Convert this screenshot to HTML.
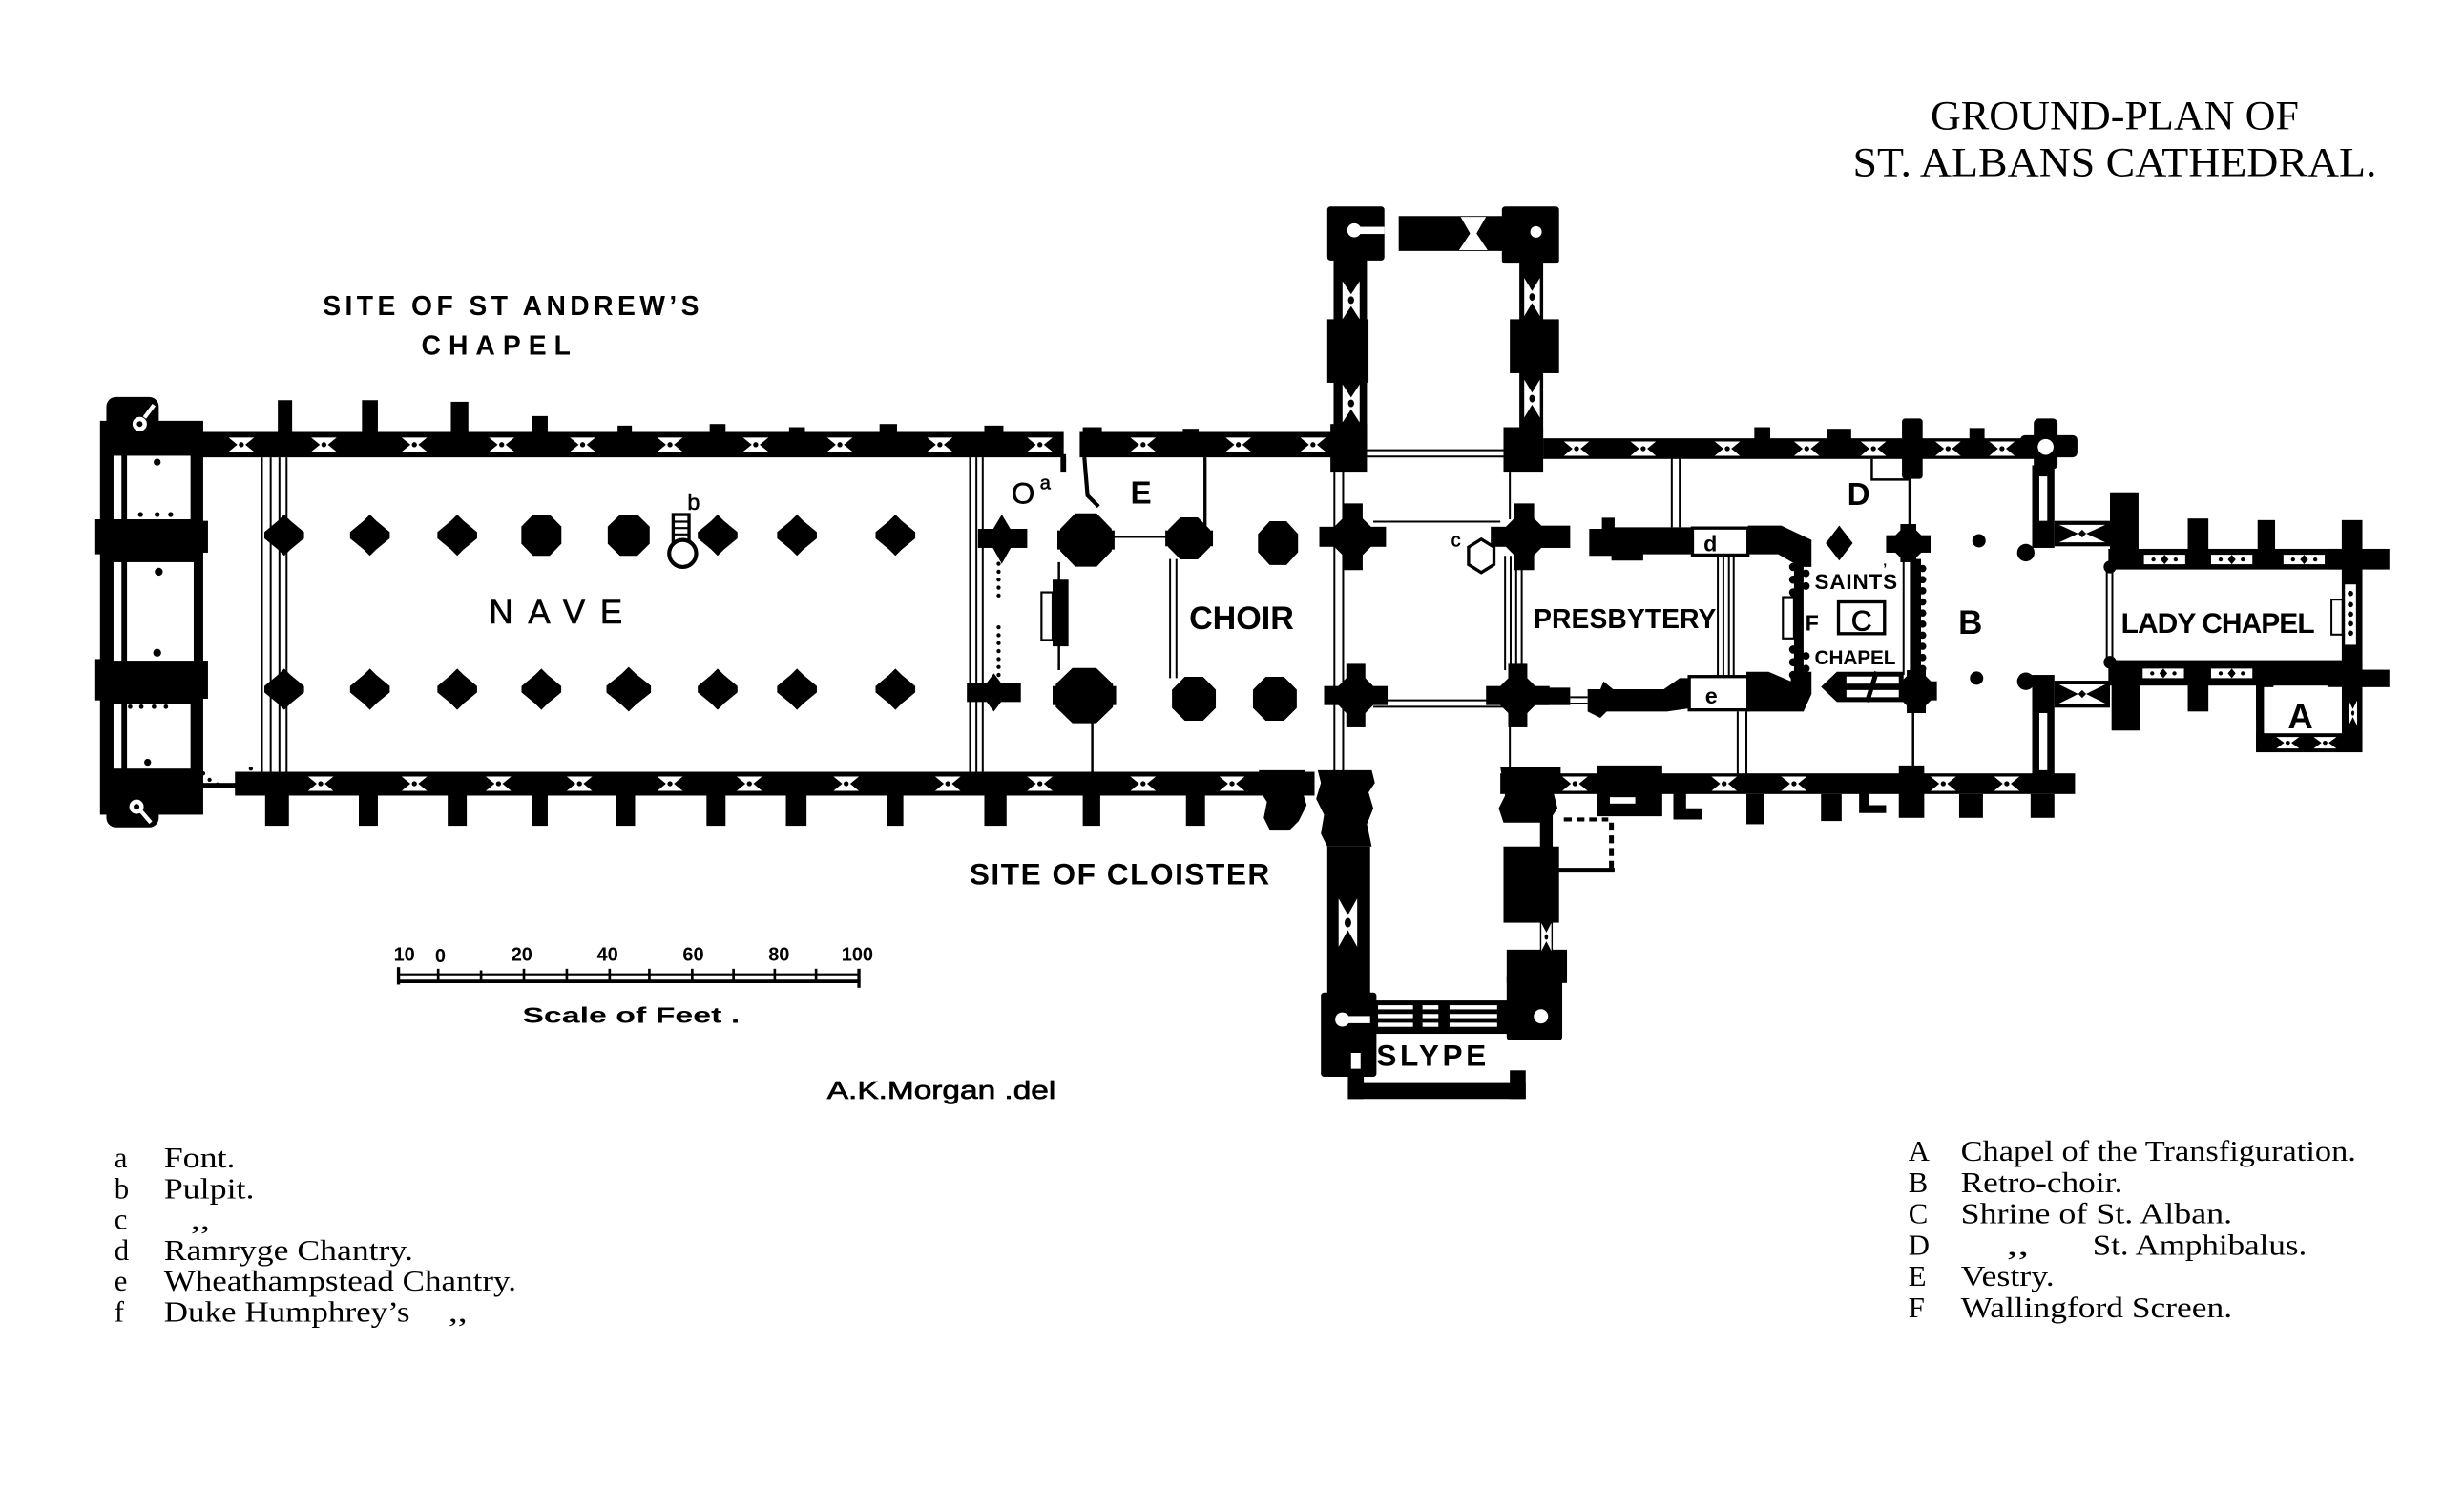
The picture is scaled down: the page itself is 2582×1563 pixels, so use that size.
<!DOCTYPE html>
<html><head><meta charset="utf-8"><title>Ground-plan of St. Albans Cathedral</title>
<style>
html,body{margin:0;padding:0;background:#fff;overflow:hidden}
svg{display:block}
.h{font-family:"Liberation Sans",sans-serif;font-weight:bold;fill:#000}
.n{font-family:"Liberation Sans",sans-serif;fill:#000}
.s{font-family:"Liberation Serif",serif;fill:#000}
</style></head><body>
<svg xmlns="http://www.w3.org/2000/svg" width="2582" height="1563" viewBox="0 0 1552 939.5" preserveAspectRatio="none">
<defs>
<g id="wh"><polygon points="-8,-4.5 8,-4.5 2.5,0 8,4.5 -8,4.5 -2.5,0" fill="#fff"/><circle r="1.6" fill="#000"/></g>
<g id="wv"><polygon points="-4.5,-8 0,-2.5 4.5,-8 4.5,8 0,2.5 -4.5,8" fill="#fff"/><circle r="1.6" fill="#000"/></g>
<g id="wl"><rect x="-13" y="-3" width="26" height="6" fill="#fff"/><polygon points="0,-3 2.5,0 0,3 -2.5,0" fill="#000"/><circle cx="-7" r="1.3" fill="#000"/><circle cx="7" r="1.3" fill="#000"/></g>
<polygon id="lz" points="0,-13 4,-9 12.5,-2 12.5,2 4,9 0,13 -4,9 -12.5,2 -12.5,-2 -4,-9"/>
<polygon id="oc" points="12,5 5,12 -5,12 -12,5 -12,-5 -5,-12 5,-12 12,-5"/>
<g id="cx"><polygon points="12,5 5,12 -5,12 -12,5 -12,-5 -5,-12 5,-12 12,-5"/><rect x="-20" y="-6" width="40" height="12"/><rect x="-6" y="-20" width="12" height="40"/></g>
</defs>
<rect width="1552" height="939.5" fill="#fff"/>

<g transform="translate(0,-3)">
<!-- ================= BLACK MASSES ================= -->
<g fill="#000">
<!-- west front -->
<rect x="63" y="268" width="65" height="248"/>
<rect x="67" y="253" width="33" height="27" rx="6"/>
<rect x="67" y="497" width="33" height="27" rx="6"/>
<rect x="60" y="330" width="8" height="22"/>
<rect x="60" y="418" width="8" height="26"/>
<rect x="126" y="331" width="5" height="20"/>
<rect x="126" y="419" width="5" height="24"/>
<rect x="120" y="496" width="30" height="3"/>

<!-- nave north wall -->
<rect x="100" y="275" width="570" height="16"/>
<rect x="680" y="275" width="162" height="16"/>
<rect x="668" y="289" width="3.5" height="11"/>
<rect x="175" y="255" width="9" height="21"/>
<rect x="228" y="255" width="10" height="21"/>
<rect x="284" y="256" width="11" height="20"/>
<rect x="335" y="265" width="10" height="11"/>
<rect x="389" y="271" width="9" height="5"/>
<rect x="447" y="270" width="10" height="6"/>
<rect x="497" y="272" width="10" height="4"/>
<rect x="554" y="270" width="11" height="6"/>
<rect x="620" y="271" width="12" height="5"/>
<rect x="682" y="272" width="12" height="4"/>
<rect x="745" y="273" width="10" height="3"/>

<!-- nave south wall -->
<rect x="148" y="489" width="680" height="15"/>
<rect x="167" y="504" width="15" height="19"/>
<rect x="226" y="504" width="12" height="19"/>
<rect x="282" y="504" width="12" height="19"/>
<rect x="335" y="504" width="10" height="19"/>
<rect x="388" y="504" width="12" height="19"/>
<rect x="445" y="504" width="12" height="19"/>
<rect x="495" y="504" width="13" height="19"/>
<rect x="559" y="504" width="10" height="19"/>
<rect x="620" y="504" width="14" height="19"/>
<rect x="682" y="504" width="11" height="19"/>
<rect x="747" y="504" width="12" height="19"/>
<path d="M793,488 L822,488 L824,495 L820,500 L823,510 L818,520 L812,526 L800,526 L796,518 L798,508 L793,500 Z"/>

<!-- nave piers -->
<use href="#lz" x="179" y="340"/>
<use href="#lz" x="233" y="340"/>
<use href="#lz" x="288" y="340"/>
<use href="#oc" transform="translate(341,340) scale(1.05,1.08)"/>
<use href="#oc" transform="translate(396,340) scale(1.1,1.08)"/>
<use href="#lz" x="452" y="340"/>
<use href="#lz" x="502" y="340"/>
<use href="#lz" x="564" y="340"/>
<use href="#lz" x="179" y="437"/>
<use href="#lz" x="233" y="437"/>
<use href="#lz" x="288" y="437"/>
<use href="#lz" x="341" y="437"/>
<use href="#lz" transform="translate(396,437) scale(1.12,1.08)"/>
<use href="#lz" x="452" y="437"/>
<use href="#lz" x="502" y="437"/>
<use href="#lz" x="564" y="437"/>

<!-- choir piers -->
<rect x="616" y="336" width="31" height="12"/>
<polygon points="631,327 640,342 631,358 622,342"/>
<use href="#oc" transform="translate(684,343) scale(1.35,1.4)"/>
<rect x="666" y="337" width="36" height="12"/>
<use href="#oc" transform="translate(749,342) scale(1.1,1.1)"/>
<rect x="734" y="337" width="30" height="10"/>
<use href="#oc" transform="translate(805,345) scale(1.05,1.15)"/>
<use href="#cx" transform="translate(852,341) scale(1.05)"/>
<use href="#cx" transform="translate(960,341) scale(1.05)"/>
<rect x="960" y="334" width="29" height="14"/>
<rect x="609" y="433" width="34" height="12"/>
<polygon points="626,427 635,439 626,451 617,439"/>
<use href="#oc" transform="translate(683,441) scale(1.5,1.45)"/>
<rect x="663" y="435" width="40" height="12"/>
<use href="#oc" transform="translate(752,443) scale(1.15,1.15)"/>
<use href="#oc" transform="translate(803,443) scale(1.15,1.15)"/>
<use href="#cx" transform="translate(854,441)"/>
<use href="#cx" transform="translate(956,441)"/>
<rect x="956" y="436" width="33" height="11"/>
<rect x="663" y="368" width="10" height="42"/>

<!-- north transept -->
<rect x="836" y="133" width="36" height="34" rx="2"/>
<rect x="881" y="139" width="71" height="22"/>
<rect x="946" y="133" width="36" height="36" rx="2"/>
<rect x="840" y="160" width="21" height="130"/>
<rect x="836" y="204" width="26" height="40"/>
<rect x="838" y="270" width="23" height="30"/>
<rect x="957" y="165" width="15" height="125"/>
<rect x="951" y="204" width="31" height="34"/>
<rect x="947" y="272" width="25" height="28"/>

<!-- south transept -->
<path d="M830,488 L864,488 L866,496 L862,502 L865,512 L861,522 L864,536 L836,536 L832,528 L834,516 L829,506 L832,496 Z"/>
<rect x="836" y="536" width="27" height="95"/>
<rect x="832" y="628" width="35" height="53" rx="2"/>
<rect x="863" y="633" width="87" height="21"/>
<rect x="949" y="616" width="35" height="42" rx="2"/>
<rect x="849" y="654" width="10" height="41"/>
<rect x="849" y="685" width="112" height="10"/>
<rect x="951" y="677" width="10" height="18"/>
<rect x="970" y="488" width="8" height="134"/>
<path d="M945,486 L983,486 L983,496 L978,500 L981,512 L975,521 L947,521 L944,512 L948,504 Z"/>
<rect x="947" y="536" width="35" height="48"/>
<rect x="949" y="601" width="38" height="21"/>

<!-- presbytery -->
<path d="M1001,336 L1009,336 L1009,329 L1017,329 L1017,335 L1066,335 L1066,352 L1035,352 L1035,356 L1015,356 L1015,353 L1001,353 Z"/>
<path d="M1101,334 L1122,334 L1141,343 L1141,360 L1134,360 L1120,352 L1101,352 Z"/>
<rect x="1130" y="355" width="6" height="82"/>
<circle cx="1129.5" cy="360" r="2.6"/><circle cx="1129.5" cy="368" r="2.6"/><circle cx="1129.5" cy="376" r="2.6"/>
<circle cx="1137.5" cy="364" r="2.4"/><circle cx="1137.5" cy="372" r="2.4"/>
<circle cx="1129.5" cy="412" r="2.6"/><circle cx="1129.5" cy="420" r="2.6"/><circle cx="1129.5" cy="428" r="2.6"/>
<circle cx="1137.5" cy="416" r="2.4"/><circle cx="1137.5" cy="424" r="2.4"/>
<path d="M1128,426 L1141,426 L1141,440 L1136,451 L1100,451 L1100,426 L1114,426 L1128,432 Z"/>
<path d="M1000,437 L1008,437 L1010,432 L1016,437 L1048,437 L1058,430 L1064,430 L1064,449 L1050,451 L1012,451 L1008,455 L1000,451 Z"/>

<!-- presbytery / retro north wall -->
<rect x="972" y="279" width="318" height="13"/>
<rect x="1105" y="272" width="10" height="8"/>
<rect x="1151" y="273" width="15" height="7"/>
<rect x="1198" y="266.5" width="13" height="38" rx="2"/>
<rect x="1240.5" y="272.5" width="9.5" height="7"/>

<!-- saints chapel piers -->
<polygon points="1158.5,334 1167,345 1158.5,356 1150,345"/>
<use href="#oc" transform="translate(1202,345.5) scale(0.8)"/>
<rect x="1188" y="340" width="28" height="11"/>
<rect x="1197" y="333" width="10" height="24"/>
<rect x="1203" y="355" width="7" height="74"/>
<circle cx="1211" cy="361" r="2.3"/><circle cx="1211" cy="368" r="2.3"/><circle cx="1211" cy="375" r="2.3"/><circle cx="1211" cy="382" r="2.3"/>
<circle cx="1211" cy="389" r="2.3"/><circle cx="1211" cy="396" r="2.3"/><circle cx="1211" cy="403" r="2.3"/><circle cx="1211" cy="410" r="2.3"/>
<circle cx="1211" cy="417" r="2.3"/><circle cx="1211" cy="424" r="2.3"/>
<polygon points="1147,435.5 1157,426 1199,426 1199,445 1157,445"/>
<use href="#oc" transform="translate(1207,438) scale(0.9)"/>
<rect x="1195" y="432" width="25" height="12"/>
<rect x="1201" y="425" width="12" height="27"/>

<!-- NE turret and retro-choir east -->
<rect x="1281" y="266.5" width="15" height="32" rx="3"/>
<rect x="1272.5" y="277" width="36" height="14" rx="3"/>
<rect x="1280" y="296" width="14" height="52"/>
<circle cx="1276" cy="351" r="5.5"/>
<rect x="1294" y="331" width="35" height="16"/>
<rect x="1280" y="428" width="14" height="73"/>
<circle cx="1276" cy="432" r="5.5"/>
<rect x="1294" y="431.6" width="35" height="17"/>

<!-- Lady chapel -->
<rect x="1328" y="348.6" width="160" height="13"/>
<rect x="1466" y="348.6" width="39" height="13"/>
<rect x="1329" y="313" width="18" height="36"/>
<rect x="1378" y="329.5" width="13" height="20"/>
<rect x="1422" y="330.5" width="11" height="19"/>
<rect x="1475" y="330.5" width="13" height="20"/>
<rect x="1328" y="418.7" width="160" height="16"/>
<rect x="1466" y="424.7" width="39" height="11"/>
<rect x="1330" y="434" width="18" height="29"/>
<rect x="1378" y="434" width="13" height="17"/>
<rect x="1421" y="434" width="11" height="22"/>
<rect x="1421" y="434" width="6" height="42"/>
<rect x="1475" y="361" width="13" height="114"/>
<rect x="1421" y="464.7" width="67" height="12"/>
<circle cx="1329" cy="360" r="4"/>
<circle cx="1329" cy="420" r="4"/>

<!-- south aisle wall east -->
<rect x="945" y="490" width="362" height="13"/>
<rect x="1006" y="485" width="41" height="32"/>
<path d="M1054,491 L1072,491 L1072,497 L1062,497 L1062,512 L1072,512 L1072,519 L1054,519 Z"/>
<rect x="1100" y="503" width="11" height="19"/>
<rect x="1147" y="503" width="13" height="17"/>
<path d="M1171,491 L1188,491 L1188,496 L1177,496 L1177,510 L1188,510 L1188,515 L1171,515 Z"/>
<rect x="1196" y="485" width="16" height="33"/>
<rect x="1234" y="503" width="15" height="15"/>
<rect x="1279" y="503" width="15" height="15"/>
</g>

<!-- ================= WHITE CUT-OUTS ================= -->
<g fill="#fff">
<rect x="71.5" y="290" width="5" height="40"/>
<rect x="80" y="290" width="40" height="40"/>
<rect x="71.5" y="357" width="5" height="62"/>
<rect x="80" y="357" width="42" height="62"/>
<rect x="71.5" y="446" width="5" height="41"/>
<rect x="80" y="446" width="40" height="41"/>
<circle cx="88" cy="270" r="4.5"/>
<circle cx="86" cy="511" r="4.5"/>
<rect x="671.5" y="275" width="8.5" height="16"/>
<circle cx="853" cy="148" r="4.4"/>
<rect x="853" y="145.8" width="19" height="4.5"/>
<circle cx="967.5" cy="149" r="3.6"/>
<polygon points="920,139.5 936,139.5 930,150 937,160.5 919,160.5 926,150"/>
<circle cx="845.5" cy="645" r="4.5"/>
<rect x="845" y="642.8" width="18" height="4.5"/>
<circle cx="970.6" cy="643" r="4.5"/>
<rect x="851" y="666" width="6" height="10"/>
<rect x="868" y="636" width="22" height="2.6"/><rect x="868" y="641.5" width="22" height="2.6"/><rect x="868" y="647" width="22" height="2.6"/>
<rect x="896" y="636" width="10" height="2.6"/><rect x="896" y="641.5" width="10" height="2.6"/><rect x="896" y="647" width="10" height="2.6"/>
<rect x="913" y="636" width="30" height="2.6"/><rect x="913" y="641.5" width="30" height="2.6"/><rect x="913" y="647" width="30" height="2.6"/>
<rect x="1014" y="505" width="16" height="4"/>
<circle cx="1288.5" cy="284.4" r="5"/>
<rect x="1284.5" y="303" width="5" height="28"/>
<rect x="1284.5" y="452" width="5" height="36"/>
<polygon points="1297,333.5 1326,333.5 1314,339 1326,344.5 1297,344.5 1309,339"/>
<polygon points="1297,434 1326,434 1314,440 1326,446 1297,446 1309,440"/>
<rect x="1477" y="371" width="7" height="38"/>
<rect x="1426" y="435.7" width="49" height="29"/>
<rect x="1163" y="429" width="33" height="4.5"/>
<rect x="1163" y="437.5" width="33" height="4.5"/>
</g>

<!-- windows -->
<g>
<use href="#wh" x="152" y="283"/><use href="#wh" x="204" y="283"/><use href="#wh" x="261" y="283"/>
<use href="#wh" x="316" y="283"/><use href="#wh" x="367" y="283"/><use href="#wh" x="422" y="283"/>
<use href="#wh" x="476" y="283"/><use href="#wh" x="529" y="283"/><use href="#wh" x="592" y="283"/>
<use href="#wh" x="655" y="283"/><use href="#wh" x="720" y="283"/><use href="#wh" x="780" y="283"/>
<use href="#wh" x="827" y="283"/>
<use href="#wh" x="202" y="496.5"/><use href="#wh" x="261" y="496.5"/><use href="#wh" x="314" y="496.5"/>
<use href="#wh" x="365" y="496.5"/><use href="#wh" x="422" y="496.5"/><use href="#wh" x="472" y="496.5"/>
<use href="#wh" x="533" y="496.5"/><use href="#wh" x="597" y="496.5"/><use href="#wh" x="655" y="496.5"/>
<use href="#wh" x="720" y="496.5"/><use href="#wh" x="776" y="496.5"/>
<use href="#wh" x="993" y="285.5"/><use href="#wh" x="1035" y="285.5"/><use href="#wh" x="1088" y="285.5"/>
<use href="#wh" x="1138" y="285.5"/><use href="#wh" x="1180" y="285.5"/><use href="#wh" x="1227" y="285.5"/>
<use href="#wh" x="1261" y="285.5"/>
<use href="#wh" x="992" y="496.5"/><use href="#wh" x="1086" y="496.5"/><use href="#wh" x="1130" y="496.5"/>
<use href="#wh" x="1224" y="496.5"/><use href="#wh" x="1264" y="496.5"/>
<use href="#wv" transform="translate(851,192) scale(1.2,1.5)"/>
<use href="#wv" transform="translate(851,257) scale(1.2,1.5)"/>
<use href="#wv" transform="translate(965,190) scale(1.1,1.5)"/>
<use href="#wv" transform="translate(965,254) scale(1.1,1.5)"/>
<use href="#wv" transform="translate(849,584) scale(1.3,1.9)"/>
<use href="#wv" transform="translate(974,593) scale(0.7,1.1)"/>
<use href="#wl" x="1363.4" y="355.3"/><use href="#wl" x="1405.7" y="355.3"/><use href="#wl" x="1451.3" y="355.3"/>
<use href="#wl" x="1362.6" y="427"/><use href="#wl" x="1405.7" y="427"/>
<use href="#wh" transform="translate(1441,470.7) scale(0.9,0.8)"/>
<use href="#wh" transform="translate(1464.5,470.7) scale(0.9,0.8)"/>
<use href="#wv" transform="translate(1482,452) scale(0.6,1)"/>
</g>

<!-- black details on top of white -->
<g fill="#000">
<circle cx="99" cy="294" r="2.2"/>
<circle cx="88.5" cy="327" r="1.6"/><circle cx="99" cy="327" r="1.6"/><circle cx="107.5" cy="327" r="1.6"/>
<circle cx="100" cy="363" r="2.5"/><circle cx="99" cy="414" r="2.5"/>
<circle cx="82" cy="448" r="1.4"/><circle cx="89" cy="448" r="1.4"/><circle cx="97" cy="448" r="1.4"/><circle cx="104.5" cy="448" r="1.4"/>
<circle cx="93" cy="483" r="2.2"/>
<circle cx="88" cy="270" r="1.8"/><circle cx="86" cy="511" r="1.8"/>
<circle cx="124" cy="485" r="1.3"/><circle cx="128" cy="490" r="1.3"/><circle cx="132" cy="494" r="1.3"/><circle cx="137" cy="497" r="1.3"/>
<circle cx="143" cy="498" r="1.3"/><circle cx="149" cy="497" r="1.3"/><circle cx="154" cy="492" r="1.3"/><circle cx="158" cy="487" r="1.3"/>
<circle cx="629" cy="358" r="1.3"/><circle cx="629" cy="363" r="1.3"/><circle cx="629" cy="368" r="1.3"/><circle cx="629" cy="373" r="1.3"/><circle cx="629" cy="378" r="1.3"/>
<circle cx="629" cy="398" r="1.3"/><circle cx="629" cy="403" r="1.3"/><circle cx="629" cy="408" r="1.3"/><circle cx="629" cy="413" r="1.3"/><circle cx="629" cy="418" r="1.3"/><circle cx="629" cy="423" r="1.3"/><circle cx="629" cy="428" r="1.3"/>
<circle cx="1480.5" cy="376.7" r="1.7"/><circle cx="1480.5" cy="383.7" r="1.7"/><circle cx="1480.5" cy="389.7" r="1.7"/><circle cx="1480.5" cy="395.7" r="1.7"/><circle cx="1480.5" cy="401.7" r="1.7"/>
<polygon points="1311.5,336.5 1314,339 1311.5,341.5 1309,339"/>
<polygon points="1311.5,437.5 1314,440 1311.5,442.5 1309,440"/>
<circle cx="1246.5" cy="343.5" r="4.2"/>
<circle cx="1245" cy="430" r="4.2"/>
</g>

<!-- ================= LINES ================= -->
<g stroke="#000" fill="none" stroke-width="1.2">
<line x1="165" y1="291" x2="165" y2="489"/><line x1="170.5" y1="291" x2="170.5" y2="489"/>
<line x1="176" y1="291" x2="176" y2="489"/><line x1="180.5" y1="291" x2="180.5" y2="489"/>
<line x1="611" y1="291" x2="611" y2="489"/><line x1="615" y1="291" x2="615" y2="489"/><line x1="619" y1="291" x2="619" y2="489"/>
<line x1="759" y1="291" x2="759" y2="336" stroke-width="2"/>
<line x1="700" y1="341" x2="740" y2="341" stroke-width="1.5"/>
<line x1="737" y1="355" x2="737" y2="430"/><line x1="741" y1="355" x2="741" y2="430"/>
<line x1="667" y1="357" x2="667" y2="425" stroke-width="1.5"/>
<line x1="688" y1="458" x2="688" y2="490" stroke-width="1.5"/>
<line x1="840.5" y1="291" x2="840.5" y2="490"/><line x1="846" y1="291" x2="846" y2="490"/>
<line x1="861" y1="286.5" x2="948" y2="286.5"/><line x1="861" y1="290.5" x2="948" y2="290.5"/>
<line x1="865" y1="331.5" x2="945" y2="331.5"/>
<line x1="865" y1="444" x2="948" y2="444"/><line x1="865" y1="448" x2="948" y2="448"/>
<line x1="948" y1="353" x2="948" y2="425"/><line x1="951.5" y1="353" x2="951.5" y2="425"/>
<line x1="955" y1="353" x2="955" y2="425"/><line x1="958.5" y1="353" x2="958.5" y2="425"/>
<line x1="951" y1="300" x2="951" y2="330"/><line x1="951" y1="457" x2="951" y2="489"/>
<line x1="1053" y1="291" x2="1053" y2="335"/><line x1="1058" y1="291" x2="1058" y2="335"/>
<line x1="1082" y1="352" x2="1082" y2="429"/><line x1="1085.5" y1="352" x2="1085.5" y2="429"/>
<line x1="1089" y1="352" x2="1089" y2="429"/><line x1="1092" y1="352" x2="1092" y2="429"/>
<line x1="1094.5" y1="451" x2="1094.5" y2="491"/><line x1="1100" y1="451" x2="1100" y2="491"/>
<line x1="989" y1="442" x2="1000" y2="442"/><line x1="989" y1="446" x2="1000" y2="446"/>
<line x1="1203" y1="291" x2="1203" y2="335" stroke-width="2"/>
<polyline points="1179,292 1179,305 1203,305" stroke-width="1.5"/>
<line x1="1199" y1="355" x2="1199" y2="428"/>
<line x1="1205" y1="451" x2="1205" y2="490" stroke-width="1.5"/>
<line x1="1327" y1="362" x2="1327" y2="418"/><line x1="1330.5" y1="362" x2="1330.5" y2="418"/>
<line x1="1064" y1="432" x2="1101" y2="432" stroke-width="1"/>
<polyline points="683,291 685,315 692,322" stroke-width="2.5"/>
<line x1="980" y1="551" x2="1017" y2="551" stroke-width="3"/>
<line x1="1015" y1="521" x2="1015" y2="551" stroke-width="3" stroke-dasharray="5,3"/>
<line x1="985" y1="519" x2="1013" y2="519" stroke-width="2.5" stroke-dasharray="5,3"/>
<line x1="91" y1="266" x2="97" y2="258" stroke="#fff" stroke-width="2.5"/>
<line x1="89" y1="514" x2="95" y2="521" stroke="#fff" stroke-width="2.5"/>
<line x1="1176" y1="445" x2="1182" y2="426" stroke-width="3"/>
</g>

<!-- outlined small features -->
<g fill="#fff" stroke="#000">
<rect x="656" y="376" width="7" height="30" stroke-width="1.3"/>
<rect x="424" y="327" width="10" height="17" stroke-width="2"/>
<circle cx="430" cy="351.5" r="8.5" stroke-width="2.5"/>
<polygon points="933,342.5 941,347.5 941,358.5 933,363.5 925,358.5 925,347.5" stroke-width="2"/>
<rect x="1066" y="335.5" width="35" height="17" stroke-width="2"/>
<rect x="1064" y="429" width="37" height="21" stroke-width="2"/>
<rect x="1123" y="379" width="7" height="26" stroke-width="1.3"/>
<rect x="1158" y="382" width="29" height="20" stroke-width="2"/>
<rect x="1468.5" y="380.6" width="7" height="22" stroke-width="1.2"/>
</g>
<g stroke="#000" stroke-width="1.3">
<line x1="424" y1="331.5" x2="434" y2="331.5"/><line x1="424" y1="335.5" x2="434" y2="335.5"/><line x1="424" y1="339.5" x2="434" y2="339.5"/>
</g>
</g>

<!-- ================= SCALE BAR ================= -->
<g stroke="#000" fill="none">
<line x1="251" y1="613.5" x2="541" y2="613.5" stroke-width="1.3"/>
<line x1="251" y1="618" x2="541" y2="618" stroke-width="2.2"/>
<line x1="251" y1="609" x2="251" y2="620" stroke-width="2"/>
<line x1="541" y1="610" x2="541" y2="622" stroke-width="2"/>
<line x1="276" y1="610" x2="276" y2="619" stroke-width="1.6"/>
<line x1="303" y1="611" x2="303" y2="619" stroke-width="1.6"/>
<line x1="330" y1="610" x2="330" y2="619" stroke-width="1.6"/>
<line x1="357" y1="610" x2="357" y2="619" stroke-width="1.6"/>
<line x1="384" y1="610" x2="384" y2="619" stroke-width="1.6"/>
<line x1="409" y1="610" x2="409" y2="619" stroke-width="1.6"/>
<line x1="436" y1="610" x2="436" y2="619" stroke-width="1.6"/>
<line x1="462" y1="610" x2="462" y2="619" stroke-width="1.6"/>
<line x1="488" y1="610" x2="488" y2="619" stroke-width="1.6"/>
<line x1="514" y1="610" x2="514" y2="619" stroke-width="1.6"/>
</g>
<g class="h" font-size="12">
<text x="248" y="605">10</text>
<text x="274" y="606">0</text>
<text x="322" y="605">20</text>
<text x="376" y="605">40</text>
<text x="430" y="605">60</text>
<text x="484" y="605">80</text>
<text x="530" y="605">100</text>
</g>
<text class="h" x="329" y="644" font-size="14" textLength="137" lengthAdjust="spacingAndGlyphs">Scale of Feet .</text>
<text class="n" x="521" y="692" font-size="15.5" textLength="144" lengthAdjust="spacingAndGlyphs" stroke="#000" stroke-width="0.4">A.K.Morgan .del</text>

<!-- ================= LABELS ================= -->
<g class="h">
<text x="203.3" y="198.3" font-size="17" textLength="237" lengthAdjust="spacing">SITE OF ST ANDREW’S</text>
<text x="265.4" y="223.4" font-size="17" textLength="94" lengthAdjust="spacing">CHAPEL</text>
<text x="749" y="396" font-size="20.5" textLength="66" lengthAdjust="spacing">CHOIR</text>
<text x="966" y="395.5" font-size="17" textLength="115" lengthAdjust="spacing">PRESBYTERY</text>
<text x="610.6" y="557" font-size="19" textLength="189" lengthAdjust="spacing">SITE OF CLOISTER</text>
<text x="867" y="671" font-size="19" textLength="69" lengthAdjust="spacing">SLYPE</text>
<text x="1336" y="398.6" font-size="18" textLength="122" lengthAdjust="spacing">LADY CHAPEL</text>
<text x="1143" y="371" font-size="13.5" textLength="52" lengthAdjust="spacing">SAINTS</text>
<text x="1186" y="361" font-size="9">’</text>
<text x="1143" y="418.5" font-size="12.5" textLength="51" lengthAdjust="spacing">CHAPEL</text>
<text x="1137" y="397" font-size="14">F</text>
<text x="1172.5" y="397" font-size="18" text-anchor="middle" font-weight="normal" stroke="#000" stroke-width="0.5">C</text>
<text x="712" y="317" font-size="20">E</text>
<text x="1163.5" y="318" font-size="20">D</text>
<text x="1233.5" y="399" font-size="21">B</text>
<text x="1441" y="458.5" font-size="22">A</text>
<text x="1073" y="347" font-size="14">d</text>
<text x="1074" y="443" font-size="14">e</text>
</g>
<g class="n" stroke="#000" stroke-width="0.35">
<text x="308" y="392.6" font-size="21" textLength="84" lengthAdjust="spacing">NAVE</text>
<text x="637" y="317" font-size="19">O</text>
<text x="655" y="308" font-size="12">a</text>
<text x="433" y="321" font-size="14">b</text>
<text x="914" y="344" font-size="12">c</text>
</g>

<!-- ================= TITLE ================= -->
<text class="s" x="1216" y="81.5" font-size="26" textLength="232" lengthAdjust="spacingAndGlyphs">GROUND-PLAN OF</text>
<text class="s" x="1167" y="111" font-size="26" textLength="330" lengthAdjust="spacingAndGlyphs">ST. ALBANS CATHEDRAL.</text>

<!-- ================= LEGENDS ================= -->
<g class="s" font-size="18.5">
<text x="72" y="735.2">a</text>
<text x="103.2" y="735.2" textLength="45" lengthAdjust="spacingAndGlyphs">Font.</text>
<text x="72" y="754.6">b</text>
<text x="103.2" y="754.6" textLength="57" lengthAdjust="spacingAndGlyphs">Pulpit.</text>
<text x="72" y="774">c</text>
<text x="120.2" y="774" textLength="12" lengthAdjust="spacingAndGlyphs">,,</text>
<text x="72" y="793.4">d</text>
<text x="103.2" y="793.4" textLength="157" lengthAdjust="spacingAndGlyphs">Ramryge Chantry.</text>
<text x="72" y="812.8">e</text>
<text x="103.2" y="812.8" textLength="222" lengthAdjust="spacingAndGlyphs">Wheathampstead Chantry.</text>
<text x="72" y="832.3">f</text>
<text x="103.2" y="832.3" textLength="155" lengthAdjust="spacingAndGlyphs">Duke Humphrey’s</text>
<text x="282.4" y="832.3" textLength="12" lengthAdjust="spacingAndGlyphs">,,</text>

<text x="1202" y="731">A</text>
<text x="1235" y="731" textLength="249" lengthAdjust="spacingAndGlyphs">Chapel of the Transfiguration.</text>
<text x="1202" y="750.7">B</text>
<text x="1235" y="750.7" textLength="102" lengthAdjust="spacingAndGlyphs">Retro-choir.</text>
<text x="1202" y="770.4">C</text>
<text x="1235" y="770.4" textLength="171" lengthAdjust="spacingAndGlyphs">Shrine of St. Alban.</text>
<text x="1202" y="790.1">D</text>
<text x="1264" y="790.1" textLength="14" lengthAdjust="spacingAndGlyphs">,,</text>
<text x="1318" y="790.1" textLength="135" lengthAdjust="spacingAndGlyphs">St. Amphibalus.</text>
<text x="1202" y="809.8">E</text>
<text x="1235" y="809.8" textLength="59" lengthAdjust="spacingAndGlyphs">Vestry.</text>
<text x="1202" y="829.5">F</text>
<text x="1235" y="829.5" textLength="171" lengthAdjust="spacingAndGlyphs">Wallingford Screen.</text>
</g>
</svg>
</body></html>
